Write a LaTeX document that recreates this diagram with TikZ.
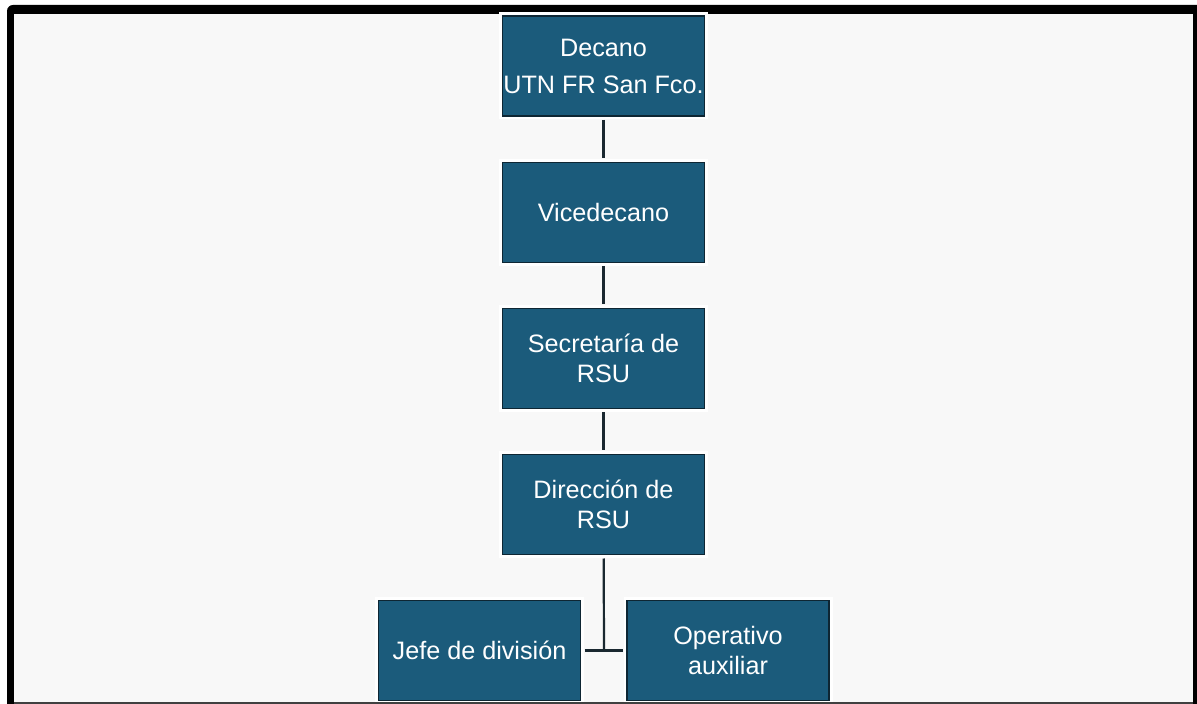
\documentclass[tikz,border=0pt]{standalone}
\usepackage{fontspec}
\setmainfont{Liberation Sans}
\definecolor{boxfill}{HTML}{1B5B7B}
\definecolor{boxedge}{HTML}{0E2633}
\definecolor{linec}{HTML}{1A2830}
\definecolor{bgc}{HTML}{F8F8F8}
\tikzset{
  orgbox/.style={rectangle, fill=boxfill, draw=boxedge, line width=0.8pt,
    preaction={draw=white, line width=3.5pt},
    minimum width=101pt, minimum height=50pt, inner sep=0pt,
    text=white, align=center, font=\fontsize{12.6}{14.8}\selectfont},
  conn/.style={draw=linec, line width=1.1pt, shorten <=1.6pt, shorten >=1.6pt}
}
\begin{document}
\begin{tikzpicture}[x=0.5pt,y=-0.5pt]
\useasboundingbox (0,0) rectangle (1197,704);
\fill[white] (0,0) rectangle (1197,704);
\fill[black, rounded corners=3pt] (7,5) rectangle (1205,712);
\fill[bgc] (14,14) rectangle (1193,702);

\node[orgbox] (dec) at (603.5,66) {Decano\\[3.7pt]UTN FR San Fco.};
\node[orgbox] (vic) at (603.5,212.5) {Vicedecano};
\node[orgbox] (sec) at (603.5,358.5) {Secretaría de\\RSU};
\node[orgbox] (dir) at (603.5,504.5) {Dirección de\\RSU};
\node[orgbox] (jef) at (479.5,650.5) {Jefe de división};
\node[orgbox] (ope) at (728,650.5) {Operativo\\auxiliar};
\coordinate (junc) at (604,650.5);

\draw[conn] (dec) -- (vic);
\draw[conn] (vic) -- (sec);
\draw[conn] (sec) -- (dir);
\draw[conn, shorten >=0pt] (dir) -- (junc);
\draw[conn] (jef) -- (ope);

\fill[black!75] (14,702) rectangle (1193,704);
\end{tikzpicture}
\end{document}
